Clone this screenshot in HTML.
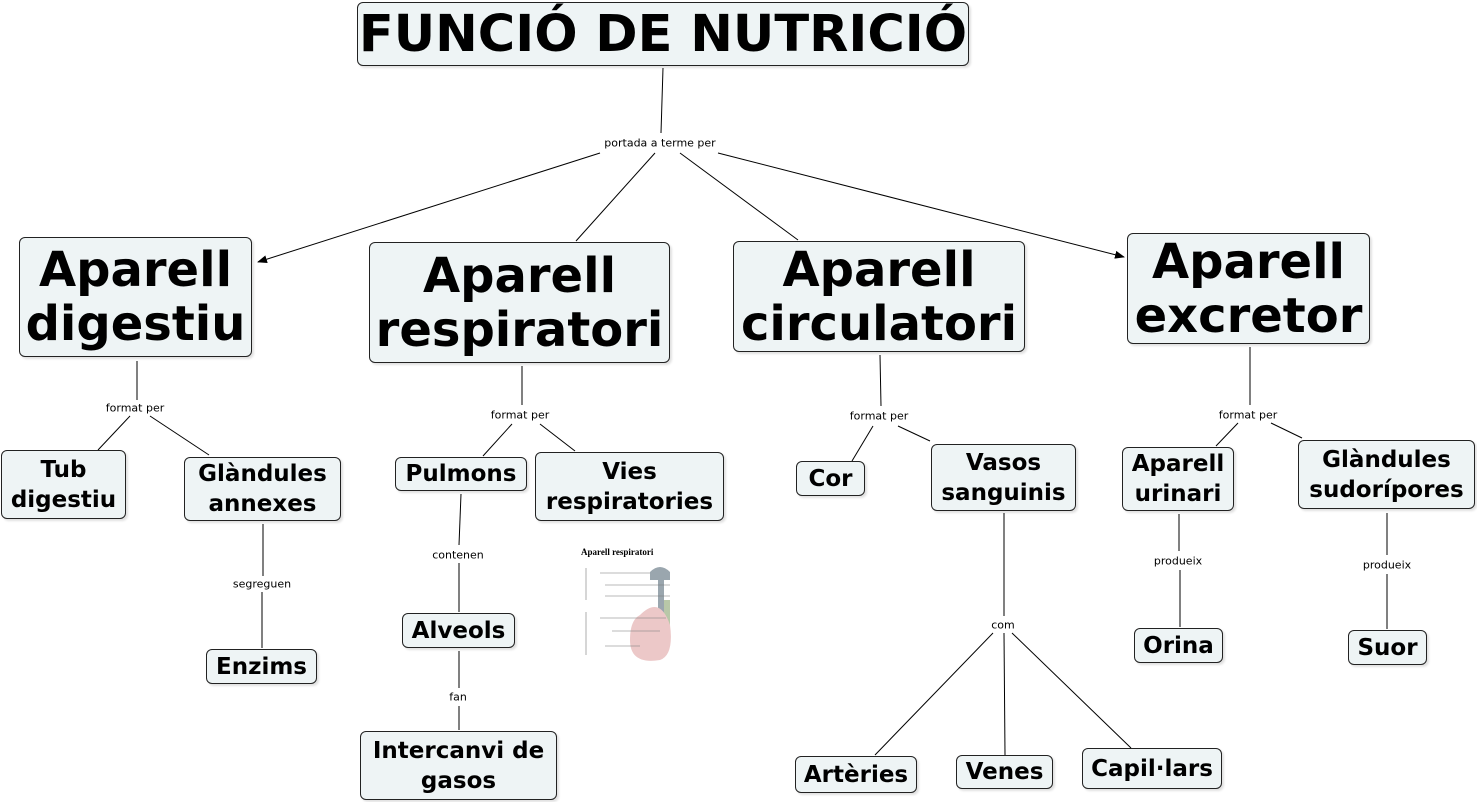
<!DOCTYPE html>
<html><head><meta charset="utf-8"><style>
body{margin:0;width:1477px;height:802px;background:#fff;position:relative;overflow:hidden;font-family:"DejaVu Sans","Liberation Sans",sans-serif}
.b{position:absolute;box-sizing:border-box;border:1px solid #222;border-radius:6px;background:#eef4f5;display:flex;align-items:center;justify-content:center;text-align:center;font-weight:bold;color:#000;box-shadow:2px 2px 2px rgba(0,0,0,.12);white-space:nowrap}
.L{font-size:48px;line-height:54px}
.S{font-size:23px;line-height:30px}
.t{position:absolute;font-size:11px;background:#fff;transform:translate(-50%,-50%);white-space:nowrap;font-family:"DejaVu Sans",sans-serif}
svg{position:absolute;left:0;top:0}
</style></head><body>
<svg width="1477" height="802">
<defs><marker id="a" markerWidth="10" markerHeight="8" refX="9" refY="4" orient="auto" markerUnits="userSpaceOnUse"><path d="M0,0L10,4L0,8z" fill="#000"/></marker></defs>
<g stroke="#000" stroke-width="1" fill="none">
<line x1="663" y1="68" x2="661" y2="133"/>
<line x1="600" y1="153" x2="258" y2="262" marker-end="url(#a)"/>
<line x1="655" y1="153" x2="576" y2="241"/>
<line x1="680" y1="153" x2="798" y2="240"/>
<line x1="718" y1="153" x2="1124" y2="257" marker-end="url(#a)"/>
<line x1="137" y1="361" x2="137" y2="400"/>
<line x1="130" y1="416" x2="98" y2="450"/>
<line x1="150" y1="416" x2="209" y2="455"/>
<line x1="263" y1="524" x2="263" y2="576"/>
<line x1="262" y1="592" x2="262" y2="648"/>
<line x1="522" y1="366" x2="522" y2="405"/>
<line x1="512" y1="424" x2="483" y2="456"/>
<line x1="540" y1="424" x2="575" y2="451"/>
<line x1="461" y1="494" x2="459" y2="545"/>
<line x1="459" y1="563" x2="459" y2="612"/>
<line x1="459" y1="651" x2="459" y2="688"/>
<line x1="459" y1="706" x2="459" y2="730"/>
<line x1="880" y1="355" x2="881" y2="406"/>
<line x1="873" y1="426" x2="852" y2="461"/>
<line x1="898" y1="426" x2="930" y2="441"/>
<line x1="1004" y1="513" x2="1004" y2="616"/>
<line x1="993" y1="633" x2="875" y2="755"/>
<line x1="1004" y1="633" x2="1005" y2="755"/>
<line x1="1012" y1="633" x2="1131" y2="748"/>
<line x1="1250" y1="347" x2="1250" y2="405"/>
<line x1="1238" y1="423" x2="1216" y2="446"/>
<line x1="1271" y1="423" x2="1302" y2="438"/>
<line x1="1179" y1="514" x2="1179" y2="551"/>
<line x1="1180" y1="570" x2="1180" y2="627"/>
<line x1="1387" y1="513" x2="1387" y2="555"/>
<line x1="1387" y1="574" x2="1387" y2="629"/>
</g>
<g>
<text x="581" y="555" font-family="Liberation Serif,serif" font-weight="bold" font-size="9">Aparell respiratori</text>
<path d="M650,572 q10,-10 20,0 v8 h-6 v60 h-6 v-60 h-8z" fill="#9aa6ae"/>
<rect x="664" y="600" width="6" height="40" fill="#b8c8a8"/>
<path d="M640,615 q20,-20 30,10 q4,30 -10,35 q-30,5 -30,-20 q0,-20 10,-25z" fill="#ecc8c8"/>
<g stroke="#777" stroke-width=".6">
<line x1="586" y1="568" x2="586" y2="600"/><line x1="586" y1="612" x2="586" y2="655"/>
<line x1="600" y1="573" x2="650" y2="573"/><line x1="605" y1="585" x2="670" y2="585"/><line x1="605" y1="596" x2="670" y2="596"/>
<line x1="600" y1="618" x2="666" y2="618"/><line x1="612" y1="631" x2="660" y2="631"/><line x1="605" y1="646" x2="640" y2="646"/>
</g>
</g>
</svg>
<div class="b" style="left:357px;top:2px;width:612px;height:64px;font-size:51px">FUNCIÓ DE NUTRICIÓ</div>
<div class="b L" style="left:19px;top:237px;width:233px;height:120px">Aparell<br>digestiu</div>
<div class="b L" style="left:369px;top:242px;width:301px;height:121px">Aparell<br>respiratori</div>
<div class="b L" style="left:733px;top:241px;width:292px;height:111px">Aparell<br>circulatori</div>
<div class="b L" style="left:1127px;top:233px;width:243px;height:111px">Aparell<br>excretor</div>
<div class="b S" style="left:1px;top:450px;width:125px;height:69px">Tub<br>digestiu</div>
<div class="b S" style="left:184px;top:457px;width:157px;height:64px">Glàndules<br>annexes</div>
<div class="b S" style="left:206px;top:649px;width:111px;height:35px">Enzims</div>
<div class="b S" style="left:395px;top:457px;width:132px;height:34px">Pulmons</div>
<div class="b S" style="left:535px;top:452px;width:189px;height:69px">Vies<br>respiratories</div>
<div class="b S" style="left:402px;top:613px;width:113px;height:35px">Alveols</div>
<div class="b S" style="left:360px;top:731px;width:197px;height:69px">Intercanvi de<br>gasos</div>
<div class="b S" style="left:796px;top:461px;width:69px;height:35px">Cor</div>
<div class="b S" style="left:931px;top:444px;width:145px;height:67px">Vasos<br>sanguinis</div>
<div class="b S" style="left:795px;top:756px;width:122px;height:37px">Artèries</div>
<div class="b S" style="left:956px;top:755px;width:97px;height:34px">Venes</div>
<div class="b S" style="left:1082px;top:748px;width:140px;height:41px">Capil·lars</div>
<div class="b S" style="left:1122px;top:447px;width:112px;height:64px">Aparell<br>urinari</div>
<div class="b S" style="left:1298px;top:440px;width:177px;height:69px">Glàndules<br>sudorípores</div>
<div class="b S" style="left:1134px;top:628px;width:89px;height:35px">Orina</div>
<div class="b S" style="left:1348px;top:630px;width:79px;height:35px">Suor</div>
<div class="t" style="left:660px;top:143px">portada a terme per</div>
<div class="t" style="left:135px;top:408px">format per</div>
<div class="t" style="left:262px;top:584px">segreguen</div>
<div class="t" style="left:520px;top:415px">format per</div>
<div class="t" style="left:458px;top:555px">contenen</div>
<div class="t" style="left:458px;top:697px">fan</div>
<div class="t" style="left:879px;top:416px">format per</div>
<div class="t" style="left:1003px;top:625px">com</div>
<div class="t" style="left:1248px;top:415px">format per</div>
<div class="t" style="left:1178px;top:561px">produeix</div>
<div class="t" style="left:1387px;top:565px">produeix</div>
</body></html>
